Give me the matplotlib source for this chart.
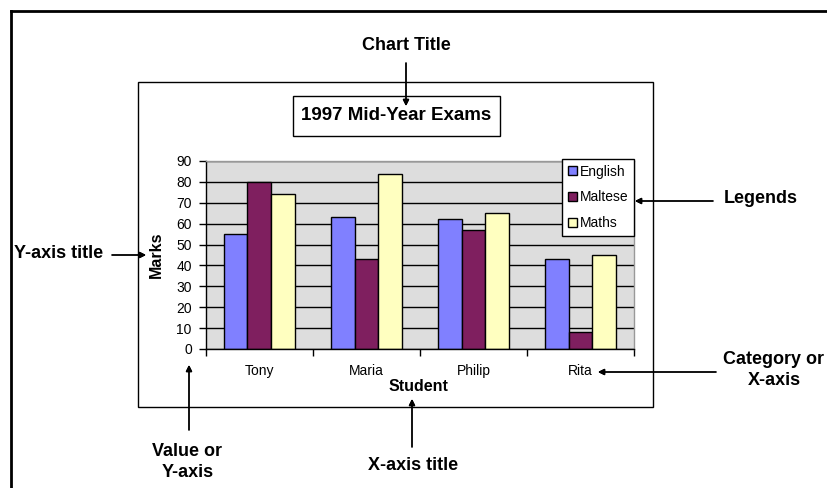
import numpy as np
import matplotlib
matplotlib.use("Agg")
import matplotlib.pyplot as plt
from matplotlib.patches import Rectangle
from matplotlib.lines import Line2D

# chart data
students = ["Tony", "Maria", "Philip", "Rita"]
subjects = ["English", "Maltese", "Maths"]
english = [55, 63, 62, 43]
maltese = [80, 43, 57, 8]
maths = [74, 84, 65, 45]
y_ticks = list(range(0, 100, 10))

colors = ["#8080FF", "#7F1F5F", "#FFFFC0"]

W, H = 828, 488
plt.rcParams['font.family'] = ['Liberation Sans', 'DejaVu Sans']


def fx(x):
    """pixel x -> figure fraction"""
    return x / W


def fy(y):
    """pixel y (from top) -> figure fraction"""
    return 1 - y / H


def arrow(fig, start, end):
    fig.add_artist(plt.annotate(
        "", xy=(fx(end[0]), fy(end[1])), xytext=(fx(start[0]), fy(start[1])),
        xycoords=fig.transFigure, textcoords=fig.transFigure,
        arrowprops=dict(arrowstyle='-|>', color='black', lw=1,
                        mutation_scale=9, shrinkA=0, shrinkB=0)))


fig = plt.figure(figsize=(W / 100, H / 100), dpi=100)

# outer frame, runs off the right and bottom edges
fig.add_artist(Line2D([fx(11.5), fx(11.5)], [fy(11), fy(H + 5)], color='black', lw=2))
fig.add_artist(Line2D([fx(11.5), fx(W + 5)], [fy(11), fy(11)], color='black', lw=2))

# chart area frame
fig.add_artist(Rectangle((fx(137.7), fy(407.3)), (653.5 - 137.7) / W, (407.3 - 82) / H,
                         fill=False, ec='black', lw=1, transform=fig.transFigure))

# chart title box
fig.add_artist(Rectangle((fx(292.5), fy(135.7)), 207 / W, 40 / H,
                         fill=False, ec='black', lw=1, transform=fig.transFigure))
fig.text(fx(396), fy(116), "1997 Mid-Year Exams", ha='center', va='center',
         fontsize=13.5, fontweight='bold')

# plot area
ax = fig.add_axes([fx(205.7), fy(349), (634 - 205.7) / W, (349 - 161) / H])
ax.set_facecolor('#DDDDDD')

x = np.arange(len(students))
width = 0.22
for i, (name, vals) in enumerate(zip(subjects, [english, maltese, maths])):
    ax.bar(x + (i - 1) * width, vals, width, color=colors[i], edgecolor='black',
           linewidth=1, label=name)

ax.set_xlim(-0.5, len(students) - 0.5)
ax.set_ylim(0, 90)
ax.set_yticks(y_ticks)
ax.set_xticks(x)
ax.set_xticklabels(students)
ax.set_xticks(np.arange(-0.5, len(students), 1), minor=True)
ax.tick_params(axis='x', which='major', length=0, pad=11, labelsize=10)
ax.tick_params(axis='x', which='minor', length=5, width=1, direction='out')
ax.tick_params(axis='y', length=5, width=1, direction='out', pad=5, labelsize=10)
ax.yaxis.grid(True, color='black', lw=1)
ax.set_axisbelow(True)

for side in ['left', 'bottom']:
    ax.spines[side].set_color('black')
    ax.spines[side].set_linewidth(1)
for side in ['top', 'right']:
    ax.spines[side].set_color('#999999')
    ax.spines[side].set_linewidth(1)

ax.set_ylabel("Marks", fontsize=11.5, fontweight='bold')
ax.yaxis.set_label_coords(-0.097, 0.5)
ax.set_xlabel("Student", fontsize=11.5, fontweight='bold')
ax.xaxis.set_label_coords(0.496, -0.158)

leg = ax.legend(loc='upper right', bbox_to_anchor=(1.0, 1.01), borderaxespad=0,
                frameon=True, fancybox=False, edgecolor='black', framealpha=1,
                fontsize=10, handlelength=0.65, handleheight=0.65,
                handletextpad=0.2, labelspacing=0.85, borderpad=0.4)
leg.get_frame().set_linewidth(1)

# callout labels
note = dict(fontsize=13, fontweight='bold', va='center', linespacing=1.3)
fig.text(fx(406), fy(45), "Chart Title", ha='center', **note)
arrow(fig, (406, 63), (406, 106))

fig.text(fx(761), fy(198), "Legends", ha='center', **note)
arrow(fig, (713, 201), (635, 201))

fig.text(fx(14), fy(254), "Y-axis title", ha='left', **note)
arrow(fig, (112, 255), (146, 255))

fig.text(fx(774), fy(370), "Category or\nX-axis", ha='center', multialignment='center', **note)
arrow(fig, (716, 372), (598, 372))

fig.text(fx(187.5), fy(462), "Value or\nY-axis", ha='center', multialignment='center', **note)
arrow(fig, (189, 430), (189, 365))

fig.text(fx(413), fy(466), "X-axis title", ha='center', **note)
arrow(fig, (412, 447), (412, 399))

fig.savefig("out.png", dpi=100)
